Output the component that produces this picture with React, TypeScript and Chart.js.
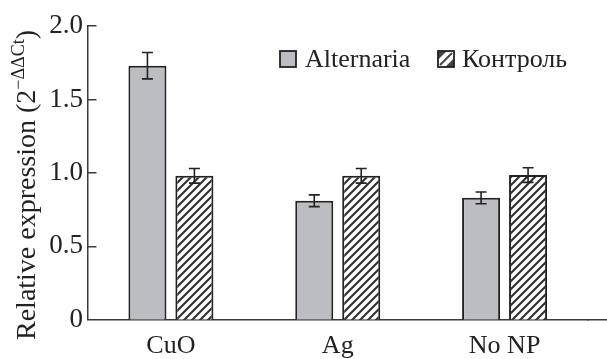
import React, { useEffect, useRef } from 'react';
import { Chart, registerables } from 'chart.js';
Chart.register(...registerables);

const categories = ['CuO', 'Ag', 'No NP'];
const seriesNames = ['Alternaria', 'Контроль'];
const alternaria = [1.73, 0.81, 0.83];
const alternariaErr = [0.09, 0.04, 0.04];
const control = [0.98, 0.98, 0.985];
const controlErr = [0.05, 0.05, 0.05];
const yTicks = [0, 0.5, 1, 1.5, 2];

const FONT = 'Liberation Serif, Times New Roman, serif';
const INK = '#222';
const AXIS = '#3a3a3a';
const GRAY = '#bcbdc1';

function makeHatch(): CanvasPattern | string {
  const c = document.createElement('canvas');
  c.width = 8;
  c.height = 8;
  const g = c.getContext('2d');
  if (!g) return '#fff';
  g.fillStyle = '#fff';
  g.fillRect(0, 0, 8, 8);
  g.strokeStyle = '#333';
  g.lineWidth = 2.2;
  g.beginPath();
  g.moveTo(-1, 9); g.lineTo(9, -1);
  g.moveTo(-5, 5); g.lineTo(5, -5);
  g.moveTo(3, 13); g.lineTo(13, 3);
  g.stroke();
  const p = g.createPattern(c, 'repeat');
  return p || '#fff';
}

const errors = [alternariaErr, controlErr];
const values = [alternaria, control];

const errorBarPlugin = {
  id: 'errorBars',
  afterDatasetsDraw(chart: any) {
    const ctx = chart.ctx;
    const ys = chart.scales.y;
    ctx.save();
    ctx.strokeStyle = INK;
    ctx.lineWidth = 1.6;
    chart.data.datasets.forEach((_: any, di: number) => {
      const meta = chart.getDatasetMeta(di);
      meta.data.forEach((bar: any, j: number) => {
        const v = values[di][j];
        const e = errors[di][j];
        const x = bar.x;
        const top = ys.getPixelForValue(v + e);
        const bot = ys.getPixelForValue(v - e);
        const cap = 5.5;
        ctx.beginPath();
        ctx.moveTo(x, top); ctx.lineTo(x, bot);
        ctx.moveTo(x - cap, top); ctx.lineTo(x + cap, top);
        ctx.moveTo(x - cap, bot); ctx.lineTo(x + cap, bot);
        ctx.stroke();
      });
    });
    ctx.restore();
  },
};

const decorPlugin = {
  id: 'decor',
  afterDraw(chart: any) {
    const ctx = chart.ctx;
    const ys = chart.scales.y;
    const area = chart.chartArea;
    ctx.save();
    // inward y ticks
    ctx.strokeStyle = AXIS;
    ctx.lineWidth = 1.5;
    yTicks.forEach((v) => {
      if (v === 0) return;
      const y = Math.round(ys.getPixelForValue(v) - 0.75) + 0.75;
      ctx.beginPath();
      ctx.moveTo(area.left, y);
      ctx.lineTo(area.left + 9, y);
      ctx.stroke();
    });
    // x axis line continues to the right edge
    const yb = Math.round(area.bottom - 0.75) + 0.75;
    ctx.beginPath();
    ctx.moveTo(area.right - 1, yb);
    ctx.lineTo(chart.width, yb);
    ctx.stroke();

    // y title with superscript
    const main1 = 'Relative expression (2';
    const sup = '\u2212\u0394\u0394Ct';
    const main2 = ')';
    const mainFont = `28px ${FONT}`;
    const supFont = `18px ${FONT}`;
    ctx.fillStyle = INK;
    ctx.textBaseline = 'alphabetic';
    ctx.textAlign = 'left';
    ctx.font = mainFont;
    const w1 = ctx.measureText(main1).width;
    const w3 = ctx.measureText(main2).width;
    ctx.font = supFont;
    const w2 = ctx.measureText(sup).width;
    const total = w1 + w2 + w3;
    const cy = 185;
    ctx.translate(35, cy);
    ctx.rotate(-Math.PI / 2);
    let x = -total / 2;
    ctx.font = mainFont;
    ctx.fillText(main1, x, 0);
    x += w1;
    ctx.font = supFont;
    ctx.fillText(sup, x, -11);
    x += w2;
    ctx.font = mainFont;
    ctx.fillText(main2, x, 0);
    ctx.restore();

    // legend
    ctx.save();
    const items = [
      { box: 280, text: 305 },
      { box: 438, text: 462 },
    ];
    const by = 51;
    const bs = 16;
    items.forEach((it, i) => {
      if (i === 0) {
        ctx.fillStyle = GRAY;
        ctx.fillRect(it.box, by, bs, bs);
      } else {
        ctx.fillStyle = '#fff';
        ctx.fillRect(it.box, by, bs, bs);
        ctx.fillStyle = '#444';
        ctx.beginPath();
        ctx.moveTo(it.box, by);
        ctx.lineTo(it.box + bs * 0.55, by);
        ctx.lineTo(it.box, by + bs * 0.55);
        ctx.closePath();
        ctx.fill();
        ctx.beginPath();
        ctx.moveTo(it.box + bs, by + bs);
        ctx.lineTo(it.box + bs * 0.45, by + bs);
        ctx.lineTo(it.box + bs, by + bs * 0.45);
        ctx.closePath();
        ctx.fill();
        ctx.strokeStyle = '#444';
        ctx.lineWidth = 2;
        ctx.beginPath();
        ctx.moveTo(it.box + 2, by + bs - 2);
        ctx.lineTo(it.box + bs - 2, by + 2);
        ctx.stroke();
      }
      ctx.strokeStyle = INK;
      ctx.lineWidth = 1.8;
      ctx.strokeRect(it.box, by, bs, bs);
      ctx.fillStyle = INK;
      ctx.font = `26px ${FONT}`;
      ctx.textBaseline = 'alphabetic';
      ctx.textAlign = 'left';
      ctx.fillText(seriesNames[i], it.text, by + bs);
    });
    ctx.restore();
  },
};

export default function App() {
  const ref = useRef<HTMLCanvasElement | null>(null);
  useEffect(() => {
    if (!ref.current) return;
    const hatch = makeHatch();
    const chart = new Chart(ref.current, {
      type: 'bar',
      data: {
        labels: categories,
        datasets: [
          {
            label: seriesNames[0],
            data: alternaria,
            backgroundColor: GRAY,
            borderColor: INK,
            borderWidth: 2,
            categoryPercentage: 0.563,
            barPercentage: 0.81,
          },
          {
            label: seriesNames[1],
            data: control,
            backgroundColor: hatch as any,
            borderColor: INK,
            borderWidth: 2,
            categoryPercentage: 0.563,
            barPercentage: 0.81,
          },
        ],
      },
      options: {
        responsive: false,
        animation: false,
        events: [],
        layout: { padding: { top: 26, right: 19, left: 0, bottom: 0 } },
        plugins: {
          legend: { display: false },
          tooltip: { enabled: false },
          title: { display: false },
        },
        scales: {
          x: {
            grid: { display: false, drawTicks: false },
            border: { display: true, color: AXIS, width: 1.5 },
            ticks: {
              font: { family: FONT, size: 26 },
              color: INK,
              padding: 11,
              autoSkip: false,
              maxRotation: 0,
            },
            afterFit: (s: any) => {
              s.height = 39.3;
            },
          },
          y: {
            min: 0,
            max: 2,
            grid: { display: false, drawTicks: false },
            border: { display: true, color: AXIS, width: 1.5 },
            ticks: {
              font: { family: FONT, size: 27 },
              color: INK,
              padding: 4.5,
              callback: (v: any) => (v === 0 ? '0' : Number(v).toFixed(1)),
            },
            afterBuildTicks: (s: any) => {
              s.ticks = yTicks.map((v) => ({ value: v }));
            },
            afterFit: (s: any) => {
              s.width = 87.5;
            },
          },
        },
      } as any,
      plugins: [errorBarPlugin, decorPlugin],
    });
    return () => chart.destroy();
  }, []);
  return (
    <div style={{ position: 'absolute', left: 0, top: 0, width: 607, height: 359, background: '#fff' }}>
      <canvas ref={ref} width={607} height={359} />
    </div>
  );
}
